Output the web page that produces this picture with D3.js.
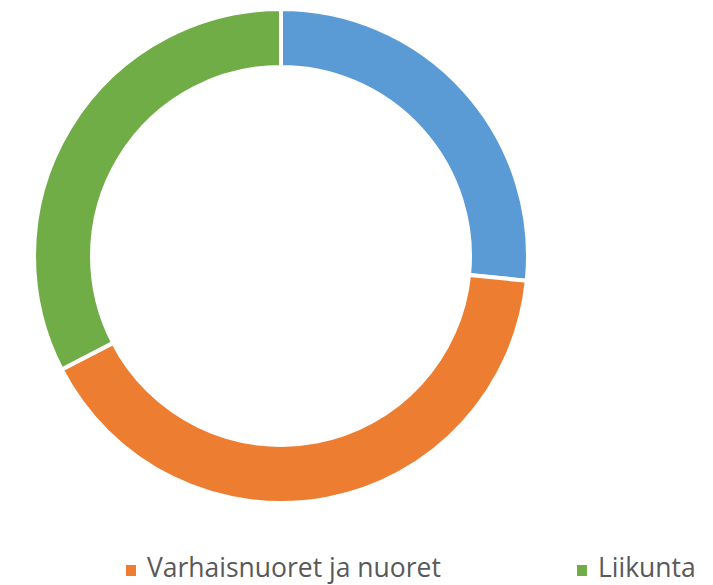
<!DOCTYPE html>
<html>
<head>
<meta charset="utf-8">
<script src="https://cdn.jsdelivr.net/npm/d3@7"></script>
<style>
  body { margin: 0; background: #fff; }
</style>
</head>
<body>
<div id="chart"></div>
<script>
// Slice data, clockwise from the top
const categories = ['Kulttuuri', 'Varhaisnuoret ja nuoret', 'Liikunta'];
const values = [26.6, 40.8, 32.6];
const colors = ['#5B9BD5', '#ED7D31', '#70AD47'];
// Legend entries shown under the chart
const legendItems = ['Varhaisnuoret ja nuoret', 'Liikunta'];

const width = 713;
const height = 585;
const cx = 281, cy = 256;
const outerR = 247, innerR = 189;

const data = categories.map((c, i) => ({ label: c, value: values[i] }));

const color = d3.scaleOrdinal()
    .domain(categories)
    .range(colors);

const pie = d3.pie()
    .sort(null)
    .value(d => d.value);

const arc = d3.arc()
    .innerRadius(innerR)
    .outerRadius(outerR);

const svg = d3.select('#chart')
    .append('svg')
    .attr('width', width)
    .attr('height', height);

const g = svg.append('g')
    .attr('transform', `translate(${cx}, ${cy})`);

g.selectAll('path')
    .data(pie(data))
    .enter()
    .append('path')
    .attr('d', arc)
    .attr('fill', d => color(d.data.label))
    .attr('stroke', '#fff')
    .style('stroke-width', '4px');

// Legend
const legendX = [126, 577];
const legend = svg.selectAll('.legend')
    .data(legendItems)
    .enter()
    .append('g')
    .attr('class', 'legend')
    .attr('transform', (d, i) => `translate(${legendX[i]}, 0)`);

legend.append('rect')
    .attr('x', 0)
    .attr('y', 565)
    .attr('width', 10)
    .attr('height', 11)
    .attr('fill', d => color(d));

const labels = legend.append('text')
    .attr('x', 21)
    .attr('y', 577)
    .attr('fill', '#595959')
    .style('font-family', '"Open Sans", Lato, sans-serif')
    .style('font-size', '22px')
    .text(d => d);

// fit the first label to the width seen in the picture
const w0 = labels.node().getComputedTextLength();
const fs = 22 * 294 / w0;
labels.style('font-size', fs + 'px');
</script>
</body>
</html>
